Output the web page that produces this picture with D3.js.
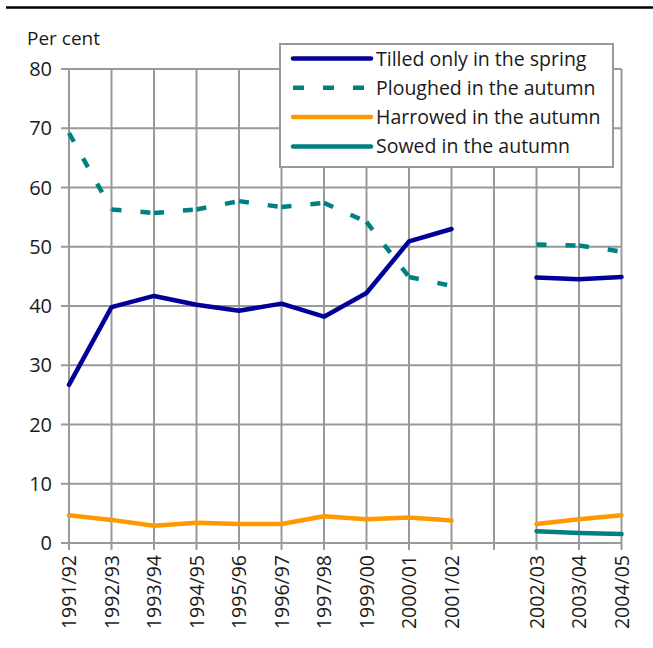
<!DOCTYPE html>
<html>
<head>
<meta charset="utf-8">
<script src="https://cdn.jsdelivr.net/npm/d3@7"></script>
<style>
  body { margin: 0; background: #fff; }
  text { font-family: "Open Sans", "Noto Sans", sans-serif; fill: #1a1a1a; }
</style>
</head>
<body>
<script>
// categories; the empty one is the gap between 2001/02 and 2002/03
const seasons = ['1991/92', '1992/93', '1993/94', '1994/95', '1995/96', '1996/97', '1997/98',
    '1999/00', '2000/01', '2001/02', 'gap', '2002/03', '2003/04', '2004/05'];

const tilled    = [26.7, 39.8, 41.7, 40.2, 39.2, 40.4, 38.2, 42.2, 50.9, 53.0, null, 44.8, 44.5, 44.9];
const ploughed  = [69.2, 56.3, 55.7, 56.3, 57.7, 56.7, 57.4, 54.2, 44.9, 43.4, null, 50.4, 50.2, 49.2];
const harrowed  = [4.7, 3.9, 2.9, 3.4, 3.2, 3.2, 4.5, 4.0, 4.3, 3.8, null, 3.2, 4.0, 4.7];
const sowed     = [null, null, null, null, null, null, null, null, null, null, null, 2.0, 1.7, 1.5];

const yTicks = [0, 10, 20, 30, 40, 50, 60, 70, 80];

const series = [
    {name: 'Tilled only in the spring', values: tilled, color: '#000099', dash: null},
    {name: 'Ploughed in the autumn', values: ploughed, color: '#008080', dash: '10,19'},
    {name: 'Harrowed in the autumn', values: harrowed, color: '#ff9900', dash: null},
    {name: 'Sowed in the autumn', values: sowed, color: '#008080', dash: null}
];

const svgWidth = 653;
const svgHeight = 648;
const margin = {left: 69, right: 31.5, top: 69, bottom: 105};

const svg = d3.select('body').append('svg')
.attr('width', svgWidth)
.attr('height', svgHeight);

const x = d3.scalePoint()
.domain(seasons)
.range([margin.left, svgWidth - margin.right]);

const y = d3.scaleLinear()
.domain([0, 80])
.range([svgHeight - margin.bottom, margin.top]);

// rule at the very top
svg.append('line')
.attr('x1', 6).attr('x2', svgWidth)
.attr('y1', 7.5).attr('y2', 7.5)
.attr('stroke', '#000')
.attr('stroke-width', 2.7);

svg.append('text')
.attr('x', 27).attr('y', 45)
.style('font-size', '19px')
.text('Per cent');

// gridlines + ticks
const grid = svg.append('g').attr('stroke', '#999').attr('stroke-width', 2);

grid.selectAll('.h')
.data(yTicks).enter()
.append('line')
.attr('x1', margin.left - 8)
.attr('x2', x.range()[1])
.attr('y1', (d) => y(d))
.attr('y2', (d) => y(d));

grid.selectAll('.v')
.data(seasons).enter()
.append('line')
.attr('x1', (d) => x(d))
.attr('x2', (d) => x(d))
.attr('y1', y(80))
.attr('y2', y(0) + 7);

svg.append('g').selectAll('text')
.data(yTicks).enter()
.append('text')
.attr('x', 52)
.attr('y', (d) => y(d))
.attr('dy', '0.36em')
.attr('text-anchor', 'end')
.style('font-size', '20px')
.text((d) => d);

svg.append('g').selectAll('text')
.data(seasons.filter((d) => d !== 'gap')).enter()
.append('text')
.attr('transform', (d) => `translate(${x(d)}, ${y(0) + 12}) rotate(-90)`)
.attr('dy', '0.36em')
.attr('text-anchor', 'end')
.style('font-size', '19.5px')
.text((d) => d);

// series
const line = d3.line()
.defined((d) => d.v != null)
.x((d) => x(d.s))
.y((d) => y(d.v));

const lines = svg.append('g').attr('fill', 'none');

series.forEach((s) => {
    const pts = s.values.map((v, i) => ({s: seasons[i], v}));
    if (!s.dash) {
        lines.append('path')
        .attr('d', line(pts))
        .attr('stroke', s.color)
        .attr('stroke-width', 4.5)
        .attr('stroke-linejoin', 'round')
        .attr('stroke-linecap', 'round');
    } else {
        // dash pattern restarts at every point, so draw segment by segment
        const segs = [];
        for (let i = 0; i < pts.length - 1; i++) {
            if (pts[i].v != null && pts[i + 1].v != null) segs.push([pts[i], pts[i + 1]]);
        }
        lines.selectAll(null)
        .data(segs).enter()
        .append('path')
        .attr('d', (d) => line(d))
        .attr('stroke', s.color)
        .attr('stroke-width', 4.5)
        .attr('stroke-dasharray', s.dash);
    }
});

// legend
const legend = svg.append('g').attr('transform', 'translate(280, 44)');

legend.append('rect')
.attr('width', 333).attr('height', 123)
.attr('fill', '#fff')
.attr('stroke', '#999')
.attr('stroke-width', 2);

const rows = legend.selectAll('g')
.data(series).enter()
.append('g')
.attr('transform', (d, i) => `translate(0, ${14.5 + i * 29.3})`);

rows.append('line')
.attr('x1', 13).attr('x2', 91)
.attr('stroke', (d) => d.color)
.attr('stroke-width', 4.5)
.attr('stroke-linecap', (d) => d.dash ? 'butt' : 'round')
.attr('stroke-dasharray', (d) => d.dash ? '11,19' : null);

rows.append('text')
.attr('x', 96)
.attr('dy', '0.36em')
.style('font-size', '19.5px')
.text((d) => d.name);
</script>
</body>
</html>
